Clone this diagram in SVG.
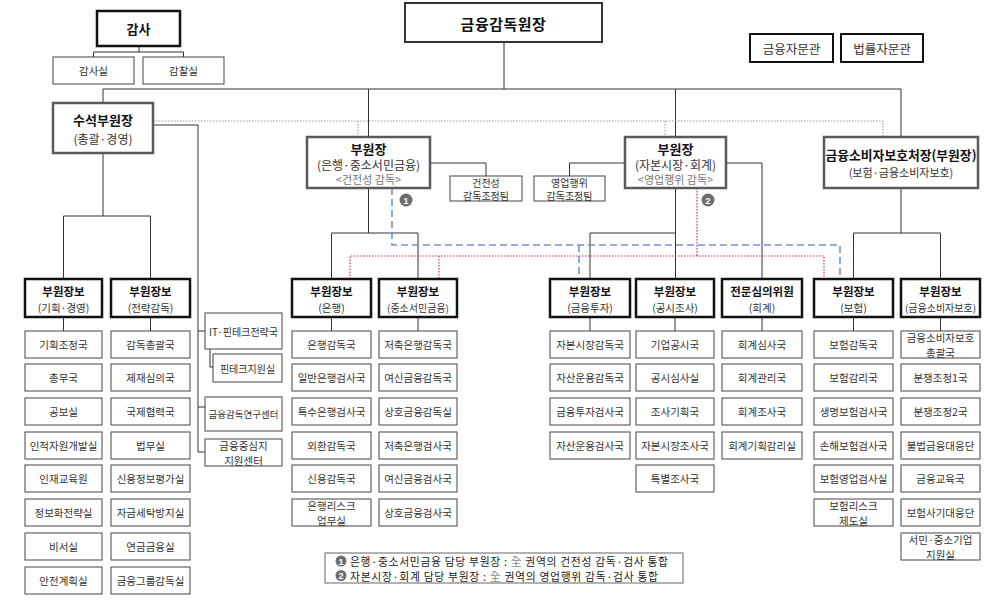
<svg xmlns="http://www.w3.org/2000/svg" width="1000" height="606" viewBox="0 0 1000 606">
<style>
.box{fill:#fff;stroke:#444;stroke-width:1}
.hb{fill:#fff;stroke:#111;stroke-width:2.5}
.vb{fill:#fff;stroke:#5a5a5a;stroke-width:2.5}
.t{font-family:"Noto Sans CJK KR","Noto Sans",sans-serif;font-size:10.5px;fill:#333;text-anchor:middle;dominant-baseline:central}
.b{font-weight:bold;fill:#111}
.g{fill:#777}
.ln{stroke:#333;stroke-width:1;fill:none}
.gd{stroke:#999;stroke-width:1;stroke-dasharray:1.5,1.5;fill:none}
.bd{stroke:#6f93d2;stroke-width:1.6;stroke-dasharray:7,4;fill:none}
.rd{stroke:#d03a3a;stroke-width:1.2;stroke-dasharray:1.5,1.5;fill:none}
.num{fill:#6e6e6e}
.nt{font-family:"Liberation Sans",sans-serif;font-size:9px;font-weight:bold;fill:#fff;text-anchor:middle;dominant-baseline:central}
</style>
<rect width="1000" height="606" fill="#fff"/>

<g id="connectors">
  <path class="ln" d="M139,46V52M93.5,57V52H183.5V57"/>
  <path class="ln" d="M504,42V89M103,103V89H901V137M368.5,89V137M675.5,89V137"/>
  <path class="gd" d="M153,121H883V137M358,121V137M665,121V137"/>
  <path class="ln" d="M103,153V216M63.5,279V216H150.5V279"/>
  <path class="ln" d="M153,125H198V452M198,331H205M198,407H205M198,452H205M210,349V367H213"/>
  <path class="ln" d="M368.5,188V233M331.5,279V233H418V279M430,163H486V176"/>
  <path class="ln" d="M675.5,188V279M590,279V233H675.5M625,163H569.5V176M726,163H762V279"/>
  <path class="ln" d="M901,188V233M853.5,279V233H940.5V279"/>
  <path class="ln" d="M63.5,317V331M150.5,317V331M331.5,317V331M418,317V331M590,317V331M675,317V331M762,317V331M853.5,317V331M940.5,317V331"/>
  <path class="bd" d="M392,188V245H840V279M579,245V279"/>
  <path class="rd" d="M697,188V256M350,279V256H824V279M439,256V279"/>
  <circle class="num" cx="406" cy="200" r="6.5"/><text class="nt" x="406" y="200.5">1</text>
  <circle class="num" cx="708" cy="200" r="6.5"/><text class="nt" x="708" y="200.5">2</text>
</g>

<g id="n-gov"><rect class="hb" x="405" y="3" width="197" height="39" style="stroke:#333;stroke-width:2"/><text class="t b" x="503.5" y="23" style="font-size:15px;letter-spacing:0.5px">금융감독원장</text></g>
<g id="n-audit"><rect class="hb" x="97" y="11" width="83" height="35"/><text class="t b" x="138.5" y="28.5" style="font-size:13px">감사</text></g>
<g id="n-audit1"><rect class="box" x="53" y="57" width="81" height="27"/><text class="t" x="93.5" y="70.5">감사실</text></g>
<g id="n-audit2"><rect class="box" x="143" y="57" width="81" height="27"/><text class="t" x="183.5" y="70.5">감찰실</text></g>
<g id="n-adv1"><rect class="hb" x="750" y="34" width="83" height="28" style="stroke-width:2"/><text class="t" x="791.5" y="48" style="font-size:12.5px">금융자문관</text></g>
<g id="n-adv2"><rect class="hb" x="841" y="34" width="82" height="28" style="stroke-width:2"/><text class="t" x="882" y="48" style="font-size:12.5px">법률자문관</text></g>

<g id="n-senior"><rect class="vb" x="53" y="103" width="100" height="50"/><text class="t" x="103" y="119"><tspan class="b" style="font-size:13px">수석부원장</tspan><tspan x="103" dy="19" style="font-size:12px">(총괄·경영)</tspan></text></g>
<g id="n-dep1"><rect class="vb" x="307" y="137" width="123" height="51"/><text class="t" x="368.5" y="148"><tspan class="b" style="font-size:13px">부원장</tspan><tspan x="368.5" dy="16" style="font-size:12px">(은행·중소서민금융)</tspan><tspan x="368.5" dy="14.5" class="g" style="font-size:11px">&lt;건전성 감독&gt;</tspan></text></g>
<g id="n-dep2"><rect class="vb" x="625" y="137" width="101" height="51"/><text class="t" x="675.5" y="148"><tspan class="b" style="font-size:13px">부원장</tspan><tspan x="675.5" dy="16" style="font-size:12px">(자본시장·회계)</tspan><tspan x="675.5" dy="14.5" class="g" style="font-size:11px">&lt;영업행위 감독&gt;</tspan></text></g>
<g id="n-cons"><rect class="vb" x="824" y="137" width="154" height="51"/><text class="t" x="901" y="154"><tspan class="b" style="font-size:12.8px">금융소비자보호처장(부원장)</tspan><tspan x="901" dy="18" style="font-size:11px">(보험·금융소비자보호)</tspan></text></g>
<g id="n-team1"><rect class="box" x="450" y="176" width="72" height="25"/><text class="t" x="486" y="182" style="font-size:10px">건전성<tspan x="486" dy="13">감독조정팀</tspan></text></g>
<g id="n-team2"><rect class="box" x="534" y="176" width="71" height="25"/><text class="t" x="569.5" y="182" style="font-size:10px">영업행위<tspan x="569.5" dy="13">감독조정팀</tspan></text></g>

<g id="n-it"><rect class="box" x="205" y="313" width="77" height="36"/><text class="t" x="243.5" y="331" style="font-size:10px">IT·핀테크전략국</text></g>
<g id="n-fin"><rect class="box" x="213" y="354" width="69" height="28"/><text class="t" x="247.5" y="368" style="font-size:10px">핀테크지원실</text></g>
<g id="n-res"><rect class="box" x="205" y="397" width="77" height="34"/><text class="t" x="243.5" y="414" style="font-size:9.5px">금융감독연구센터</text></g>
<g id="n-hub"><rect class="box" x="205" y="439" width="77" height="27"/><text class="t" x="243.5" y="445.5">금융중심지<tspan x="243.5" dy="14">지원센터</tspan></text></g>

<g id="h-a"><rect class="hb" x="25" y="279" width="77" height="38"/><text class="t" x="63.5" y="290.5"><tspan class="b" style="font-size:11.5px">부원장보</tspan><tspan x="63.5" dy="16">(기획·경영)</tspan></text></g>
<g id="h-b"><rect class="hb" x="111" y="279" width="79" height="38"/><text class="t" x="150.5" y="290.5"><tspan class="b" style="font-size:11.5px">부원장보</tspan><tspan x="150.5" dy="16">(전략감독)</tspan></text></g>
<g id="h-c"><rect class="hb" x="292" y="279" width="79" height="38"/><text class="t" x="331.5" y="290.5"><tspan class="b" style="font-size:11.5px">부원장보</tspan><tspan x="331.5" dy="16">(은행)</tspan></text></g>
<g id="h-d"><rect class="hb" x="379" y="279" width="78" height="38"/><text class="t" x="418" y="290.5"><tspan class="b" style="font-size:11.5px">부원장보</tspan><tspan x="418" dy="16" style="font-size:10px">(중소서민금융)</tspan></text></g>
<g id="h-e"><rect class="hb" x="550" y="279" width="80" height="38"/><text class="t" x="590" y="290.5"><tspan class="b" style="font-size:11.5px">부원장보</tspan><tspan x="590" dy="16">(금융투자)</tspan></text></g>
<g id="h-f"><rect class="hb" x="636" y="279" width="78" height="38"/><text class="t" x="675" y="290.5"><tspan class="b" style="font-size:11.5px">부원장보</tspan><tspan x="675" dy="16">(공시조사)</tspan></text></g>
<g id="h-g"><rect class="hb" x="722" y="279" width="80" height="38"/><text class="t" x="762" y="290.5"><tspan class="b" style="font-size:11.5px">전문심의위원</tspan><tspan x="762" dy="16">(회계)</tspan></text></g>
<g id="h-h"><rect class="hb" x="814" y="279" width="79" height="38"/><text class="t" x="853.5" y="290.5"><tspan class="b" style="font-size:11.5px">부원장보</tspan><tspan x="853.5" dy="16">(보험)</tspan></text></g>
<g id="h-i"><rect class="hb" x="901" y="279" width="79" height="38"/><text class="t" x="940.5" y="290.5"><tspan class="b" style="font-size:11.5px">부원장보</tspan><tspan x="940.5" dy="16" style="font-size:10px">(금융소비자보호)</tspan></text></g>

<g id="a1"><rect class="box" x="25" y="331" width="77" height="27"/><text class="t" x="63.5" y="344.5">기획조정국</text></g>
<g id="a2"><rect class="box" x="25" y="364" width="77" height="27"/><text class="t" x="63.5" y="377.5">총무국</text></g>
<g id="a3"><rect class="box" x="25" y="398" width="77" height="27"/><text class="t" x="63.5" y="411.5">공보실</text></g>
<g id="a4"><rect class="box" x="25" y="432" width="77" height="27"/><text class="t" x="63.5" y="445.5">인적자원개발실</text></g>
<g id="a5"><rect class="box" x="25" y="465" width="77" height="27"/><text class="t" x="63.5" y="478.5">인재교육원</text></g>
<g id="a6"><rect class="box" x="25" y="499" width="77" height="27"/><text class="t" x="63.5" y="512.5">정보화전략실</text></g>
<g id="a7"><rect class="box" x="25" y="533" width="77" height="27"/><text class="t" x="63.5" y="546.5">비서실</text></g>
<g id="a8"><rect class="box" x="25" y="567" width="77" height="27"/><text class="t" x="63.5" y="580.5">안전계획실</text></g>
<g id="b1"><rect class="box" x="111" y="331" width="79" height="27"/><text class="t" x="150.5" y="344.5">감독총괄국</text></g>
<g id="b2"><rect class="box" x="111" y="364" width="79" height="27"/><text class="t" x="150.5" y="377.5">제재심의국</text></g>
<g id="b3"><rect class="box" x="111" y="398" width="79" height="27"/><text class="t" x="150.5" y="411.5">국제협력국</text></g>
<g id="b4"><rect class="box" x="111" y="432" width="79" height="27"/><text class="t" x="150.5" y="445.5">법무실</text></g>
<g id="b5"><rect class="box" x="111" y="465" width="79" height="27"/><text class="t" x="150.5" y="478.5">신용정보평가실</text></g>
<g id="b6"><rect class="box" x="111" y="499" width="79" height="27"/><text class="t" x="150.5" y="512.5">자금세탁방지실</text></g>
<g id="b7"><rect class="box" x="111" y="533" width="79" height="27"/><text class="t" x="150.5" y="546.5">연금금융실</text></g>
<g id="b8"><rect class="box" x="111" y="567" width="79" height="27"/><text class="t" x="150.5" y="580.5">금융그룹감독실</text></g>
<g id="c1"><rect class="box" x="292" y="331" width="79" height="27"/><text class="t" x="331.5" y="344.5">은행감독국</text></g>
<g id="c2"><rect class="box" x="292" y="364" width="79" height="27"/><text class="t" x="331.5" y="377.5">일반은행검사국</text></g>
<g id="c3"><rect class="box" x="292" y="398" width="79" height="27"/><text class="t" x="331.5" y="411.5">특수은행검사국</text></g>
<g id="c4"><rect class="box" x="292" y="432" width="79" height="27"/><text class="t" x="331.5" y="445.5">외환감독국</text></g>
<g id="c5"><rect class="box" x="292" y="465" width="79" height="27"/><text class="t" x="331.5" y="478.5">신용감독국</text></g>
<g id="c6"><rect class="box" x="292" y="499" width="79" height="27"/><text class="t" x="331.5" y="505.5">은행리스크<tspan x="331.5" dy="14">업무실</tspan></text></g>
<g id="d1"><rect class="box" x="379" y="331" width="78" height="27"/><text class="t" x="418" y="344.5">저축은행감독국</text></g>
<g id="d2"><rect class="box" x="379" y="364" width="78" height="27"/><text class="t" x="418" y="377.5">여신금융감독국</text></g>
<g id="d3"><rect class="box" x="379" y="398" width="78" height="27"/><text class="t" x="418" y="411.5">상호금융감독실</text></g>
<g id="d4"><rect class="box" x="379" y="432" width="78" height="27"/><text class="t" x="418" y="445.5">저축은행검사국</text></g>
<g id="d5"><rect class="box" x="379" y="465" width="78" height="27"/><text class="t" x="418" y="478.5">여신금융검사국</text></g>
<g id="d6"><rect class="box" x="379" y="499" width="78" height="27"/><text class="t" x="418" y="512.5">상호금융검사국</text></g>
<g id="e1"><rect class="box" x="550" y="331" width="80" height="27"/><text class="t" x="590" y="344.5">자본시장감독국</text></g>
<g id="e2"><rect class="box" x="550" y="364" width="80" height="27"/><text class="t" x="590" y="377.5">자산운용감독국</text></g>
<g id="e3"><rect class="box" x="550" y="398" width="80" height="27"/><text class="t" x="590" y="411.5">금융투자검사국</text></g>
<g id="e4"><rect class="box" x="550" y="432" width="80" height="27"/><text class="t" x="590" y="445.5">자산운용검사국</text></g>
<g id="f1"><rect class="box" x="636" y="331" width="78" height="27"/><text class="t" x="675" y="344.5">기업공시국</text></g>
<g id="f2"><rect class="box" x="636" y="364" width="78" height="27"/><text class="t" x="675" y="377.5">공시심사실</text></g>
<g id="f3"><rect class="box" x="636" y="398" width="78" height="27"/><text class="t" x="675" y="411.5">조사기획국</text></g>
<g id="f4"><rect class="box" x="636" y="432" width="78" height="27"/><text class="t" x="675" y="445.5">자본시장조사국</text></g>
<g id="f5"><rect class="box" x="636" y="465" width="78" height="27"/><text class="t" x="675" y="478.5">특별조사국</text></g>
<g id="g1"><rect class="box" x="722" y="331" width="80" height="27"/><text class="t" x="762" y="344.5">회계심사국</text></g>
<g id="g2"><rect class="box" x="722" y="364" width="80" height="27"/><text class="t" x="762" y="377.5">회계관리국</text></g>
<g id="g3"><rect class="box" x="722" y="398" width="80" height="27"/><text class="t" x="762" y="411.5">회계조사국</text></g>
<g id="g4"><rect class="box" x="722" y="432" width="80" height="27"/><text class="t" x="762" y="445.5">회계기획감리실</text></g>
<g id="h1"><rect class="box" x="814" y="331" width="79" height="27"/><text class="t" x="853.5" y="344.5">보험감독국</text></g>
<g id="h2"><rect class="box" x="814" y="364" width="79" height="27"/><text class="t" x="853.5" y="377.5">보험감리국</text></g>
<g id="h3"><rect class="box" x="814" y="398" width="79" height="27"/><text class="t" x="853.5" y="411.5">생명보험검사국</text></g>
<g id="h4"><rect class="box" x="814" y="432" width="79" height="27"/><text class="t" x="853.5" y="445.5">손해보험검사국</text></g>
<g id="h5"><rect class="box" x="814" y="465" width="79" height="27"/><text class="t" x="853.5" y="478.5">보험영업검사실</text></g>
<g id="h6"><rect class="box" x="814" y="499" width="79" height="27"/><text class="t" x="853.5" y="505.5">보험리스크<tspan x="853.5" dy="14">제도실</tspan></text></g>
<g id="i1"><rect class="box" x="901" y="331" width="79" height="27"/><text class="t" x="940.5" y="337.5">금융소비자보호<tspan x="940.5" dy="14">총괄국</tspan></text></g>
<g id="i2"><rect class="box" x="901" y="364" width="79" height="27"/><text class="t" x="940.5" y="377.5">분쟁조정1국</text></g>
<g id="i3"><rect class="box" x="901" y="398" width="79" height="27"/><text class="t" x="940.5" y="411.5">분쟁조정2국</text></g>
<g id="i4"><rect class="box" x="901" y="432" width="79" height="27"/><text class="t" x="940.5" y="445.5">불법금융대응단</text></g>
<g id="i5"><rect class="box" x="901" y="465" width="79" height="27"/><text class="t" x="940.5" y="478.5">금융교육국</text></g>
<g id="i6"><rect class="box" x="901" y="499" width="79" height="27"/><text class="t" x="940.5" y="512.5">보험사기대응단</text></g>
<g id="i7"><rect class="box" x="901" y="533" width="79" height="27"/><text class="t" x="940.5" y="539.5">서민·중소기업<tspan x="940.5" dy="14">지원실</tspan></text></g>

<g id="legend">
  <rect class="box" x="325" y="553" width="358" height="30" style="stroke:#666"/>
  <circle class="num" cx="341" cy="561" r="5.5"/><text class="nt" x="341" y="561.5">1</text>
  <circle class="num" cx="341" cy="575.5" r="5.5"/><text class="nt" x="341" y="576">2</text>
  <text class="t" x="350" y="560.5" textLength="318" lengthAdjust="spacing" style="text-anchor:start;font-size:10.8px;fill:#222">은행·중소서민금융 담당 부원장 : <tspan fill="#888">全</tspan> 권역의 건전성 감독·검사 통합</text>
  <text class="t" x="350" y="576" textLength="308" lengthAdjust="spacing" style="text-anchor:start;font-size:10.8px;fill:#222">자본시장·회계 담당 부원장 : <tspan fill="#888">全</tspan> 권역의 영업행위 감독·검사 통합</text>
</g>
</svg>
